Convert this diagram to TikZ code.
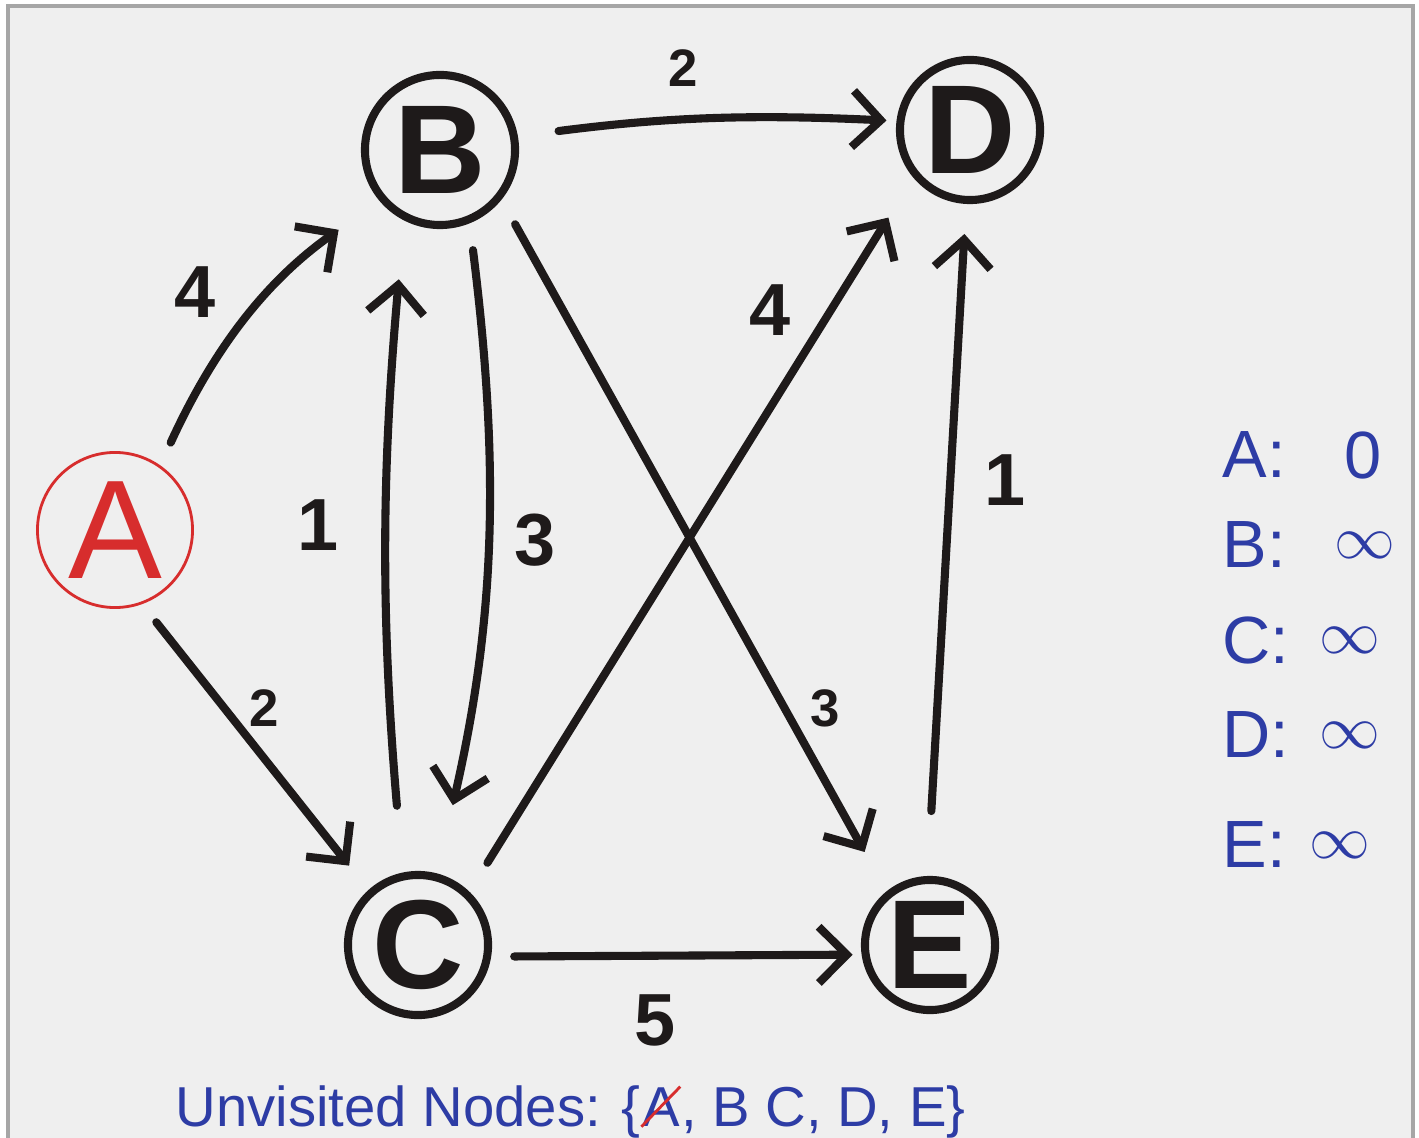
\documentclass[tikz,border=0pt]{standalone}
\usepackage{fontspec}
\setsansfont{Liberation Sans}
\usepackage{xcolor}
\usetikzlibrary{arrows.meta,positioning}
\definecolor{pen}{RGB}{30,26,26}
\definecolor{ink}{RGB}{45,60,165}
\definecolor{redink}{RGB}{215,45,45}
\definecolor{paper}{RGB}{239,239,239}

\begin{document}
\begin{tikzpicture}[
    x=0.01cm, y=-0.01cm,
    vertex/.style={circle, draw=pen, line width=2.3pt, inner sep=0pt,
                   font=\sffamily\bfseries\fontsize{36}{36}\selectfont, text=pen},
    srcnode/.style={circle, draw=redink, line width=0.8pt, inner sep=0pt, minimum size=1.55cm,
                    font=\sffamily\fontsize{40}{40}\selectfont, text=redink},
    arr/.style={-{Straight Barb[length=8pt,width=16pt]}, line width=2.3pt, draw=pen, line cap=round},
    wt/.style={font=\sffamily\bfseries\fontsize{21}{21}\selectfont, text=pen},
    wtsmall/.style={font=\sffamily\bfseries\fontsize{15}{15}\selectfont, text=pen},
    dist/.style={font=\sffamily\fontsize{19}{19}\selectfont, text=ink},
    unv/.style={font=\sffamily\fontsize{16}{16}\selectfont, text=ink, inner sep=0pt, anchor=base west},
]
\useasboundingbox (0,0) rectangle (1419,1137);
\fill[white] (0,0) rectangle (1419,1137);
\filldraw[fill=paper, draw=gray!70, line width=1pt] (8,6) rectangle (1413,1160);

\node[srcnode] (A) at (115,530) {A};
\node[vertex, minimum size=1.5cm] (B) at (440,150) {B};
\node[vertex, minimum size=1.4cm] (D) at (970,130) {D};
\node[vertex, minimum size=1.4cm] (C) at (418,945) {C};
\node[vertex, minimum size=1.3cm] (E) at (930,945) {E};

\draw[arr, shorten <=0.25cm, shorten >=0.5cm] (A.55) to[bend left=15] (B.220);
\draw[arr, shorten <=0.23cm, shorten >=0.31cm] (A.-70) -- (C.132);
\draw[arr, shorten <=0.41cm, shorten >=0.1cm] (B.10) to[bend left=5] (D.173);
\draw[arr, shorten <=0.27cm, shorten >=0.7cm] (B.-68) to[bend left=10] (C.75);
\draw[arr, shorten <=0.67cm, shorten >=0.59cm] (C.102) to[bend left=5] (B.243);
\draw[arr, shorten <=0.28cm, shorten >=0.45cm] (B.-39) -- (E.129);
\draw[arr, shorten <=0.34cm, shorten >=0.47cm] (C.46) -- (D.220);
\draw[arr, shorten <=0.65cm, shorten >=0.3cm] (E.92) -- (D.267);
\draw[arr, shorten <=0.23cm, shorten >=0.09cm] (C.-9) -- (E.188);

\node[wt] (wAB) at (195,292) {4};
\node[wtsmall] (wAC) at (264,708) {2};
\node[wtsmall] (wBD) at (683,68) {2};
\node[wt] (wCB) at (318,525) {1};
\node[wt] (wBC) at (535,540) {3};
\node[wt] (wCD) at (770,310) {4};
\node[wtsmall] (wBE) at (825,708) {3};
\node[wt] (wED) at (1005,480) {1};
\node[wt] (wCE) at (655,1020) {5};

\foreach \n/\v/\x/\y in {A/0/1363/455, B/$\infty$/1365/545, C/$\infty$/1350/640,
                         D/$\infty$/1350/735, E/$\infty$/1340/845} {
  \node[dist, anchor=west] (lbl\n) at (1210,\y) {\n:};
  \node[dist] (val\n) at (\x,\y) {\v};
}

\node[unv] (unvL) at (175,1126) {Unvisited Nodes: \{};
\node[unv] (unvA) at (unvL.base east) {A};
\node[unv] (unvR) at (unvA.base east) {, B C, D, E\}};
\draw[redink, line width=0.8pt] (unvA.south west) -- (unvA.north east);
\end{tikzpicture}
\end{document}
